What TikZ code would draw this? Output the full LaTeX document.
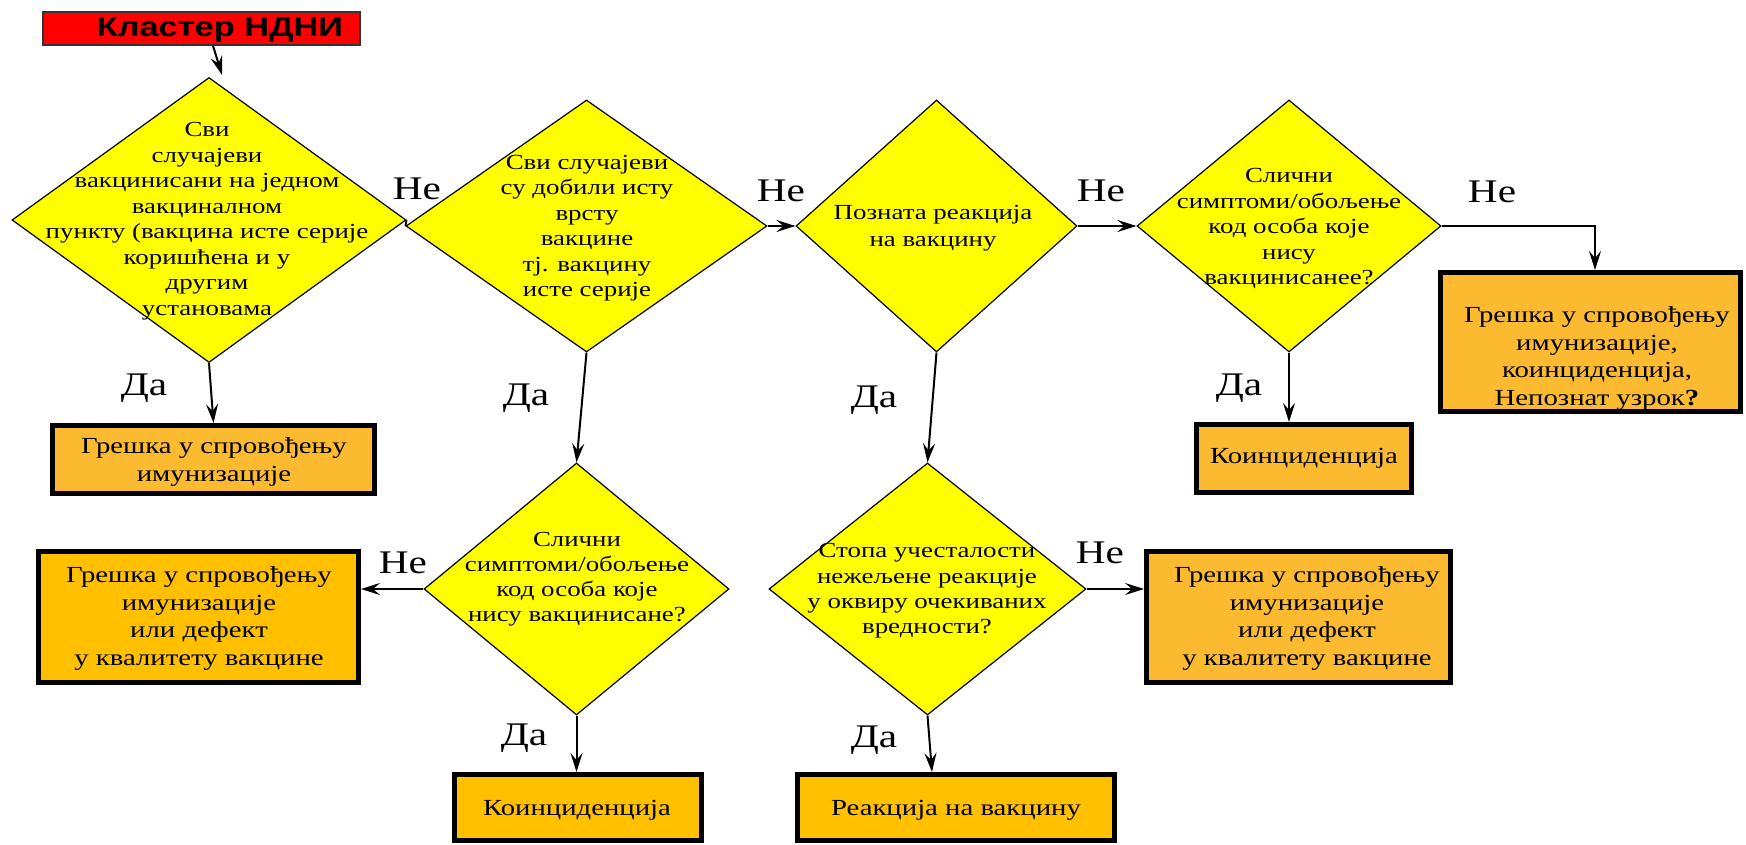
\documentclass[tikz,border=0pt]{standalone}
\usepackage{fontspec}
\setmainfont{Liberation Serif}[FakeStretch=1.25]
\newfontfamily\titlefont{Liberation Sans}[FakeStretch=1.25]
\usetikzlibrary{shapes.geometric,arrows.meta}
\definecolor{dyel}{HTML}{FFFF00}
\definecolor{boxA}{HTML}{FBBA30}
\definecolor{boxB}{HTML}{FFC000}
\definecolor{titred}{HTML}{FF0000}
\begin{document}
\begin{tikzpicture}[x=1pt,y=-1pt,
  dia/.style={diamond, draw=black, line width=1.2pt, fill=dyel, inner sep=0pt},
  dtext/.style={align=center, font=\fontsize{21.5}{25.5}\selectfont, inner sep=0pt},
  outbox/.style={draw=black, line width=5pt, inner sep=0pt},
  btext/.style={align=center, font=\fontsize{23}{27.7}\selectfont, inner sep=0pt},
  lbl/.style={anchor=base, font=\fontsize{33}{36}\selectfont, inner sep=0pt},
  arr/.style={line width=2pt, -{Stealth[length=19pt,width=12pt,inset=7pt]}},
]
\useasboundingbox[fill=white] (0,0) rectangle (1746,845);

% title
\node[draw=black!80, line width=1.5pt, fill=titred, minimum width=317, minimum height=33, inner sep=0pt] (title) at (201.5,28.5) {};
\node[inner sep=0pt, font=\titlefont\bfseries\fontsize{27.5}{29}\selectfont] (titletext) at (220,29.5) {Кластер НДНИ};

% diamonds
\node[dia, minimum width=394, minimum height=285] (d1) at (209,220) {};
\node[dia, minimum width=361, minimum height=252] (d2) at (586.5,226) {};
\node[dia, minimum width=281, minimum height=252] (d3) at (936.5,226) {};
\node[dia, minimum width=304, minimum height=252] (d5) at (1289,226) {};
\node[dia, minimum width=305, minimum height=252] (d4) at (576.5,589) {};
\node[dia, minimum width=317, minimum height=252] (d6) at (927.5,589) {};

\node[dtext] (t1) at (207,221) {Сви\\случајеви\\вакцинисани на једном\\вакциналном\\пункту (вакцина исте серије\\коришћена и у\\другим\\установама};
\node[dtext] (t2) at (587,228) {Сви случајеви\\су добили исту\\врсту\\вакцине\\тј. вакцину\\ исте серије};
\node[dtext, font=\fontsize{21.5}{27}\selectfont] (t3) at (933,228.5) {Позната реакција\\на вакцину};
\node[dtext] (t5) at (1289,228.5) {Слични\\симптоми/обољење\\код особа које\\нису\\вакцинисанее?};
\node[dtext, font=\fontsize{21.5}{25}\selectfont] (t4) at (577,579.5) {Слични\\симптоми/обољење\\код особа које\\нису вакцинисане?};
\node[dtext, font=\fontsize{21.5}{25.3}\selectfont] (t6) at (927,591) {Стопа учесталости\\нежељене реакције\\у оквиру очекиваних\\вредности?};

% result boxes
\node[outbox, fill=boxA, minimum width=322, minimum height=68] (b1) at (213.5,459.5) {};
\node[outbox, fill=boxA, minimum width=215, minimum height=68] (b2) at (1304,458.5) {};
\node[outbox, fill=boxA, minimum width=300, minimum height=139] (b3) at (1590.5,342) {};
\node[outbox, fill=boxB, minimum width=320, minimum height=131] (b4) at (198.5,617) {};
\node[outbox, fill=boxB, minimum width=247, minimum height=66] (b5) at (578,807.5) {};
\node[outbox, fill=boxB, minimum width=317, minimum height=66] (b6) at (956,807.5) {};
\node[outbox, fill=boxA, minimum width=304, minimum height=131] (b7) at (1298.5,617) {};

\node[btext, font=\fontsize{23}{28}\selectfont] (bt1) at (214,462) {Грешка у спровођењу\\имунизације};
\node[btext] (bt2) at (1304,458) {Коинциденција};
\node[btext] (bt3) at (1597,358.5) {Грешка у спровођењу\\имунизације,\\коинциденција,\\Непознат узрок\textbf{?}};
\node[btext] (bt4) at (199,618.5) {Грешка у спровођењу\\имунизације\\или дефект\\у квалитету вакцине};
\node[btext] (bt5) at (577,810) {Коинциденција};
\node[btext] (bt6) at (956,810) {Реакција на вакцину};
\node[btext] (bt7) at (1307,618.5) {Грешка у спровођењу\\имунизације\\или дефект\\у квалитету вакцине};

% connectors
\draw[arr] ([xshift=11.5pt]title.south) -- ([xshift=13pt,yshift=2pt]d1.north);
\draw[line width=1.8pt] (d1.east) -- (d2.west);
\draw[arr] (d2.east) -- (d3.west);
\draw[arr] (d3.east) -- (d5.west);
\draw[arr] (d5.east) -| ([xshift=4.5pt]b3.north);
\draw[arr] (d1.south) -- (b1.north);
\draw[arr] (d2.south) -- (d4.north);
\draw[arr] (d3.south) -- (d6.north);
\draw[arr] (d5.south) -- (d5.south |- b2.north);
\draw[arr] (d4.west) -- (d4.west -| b4.east);
\draw[arr] (d4.south) -- (d4.south |- b5.north);
\draw[arr] (d6.east) -- (d6.east -| b7.west);
\draw[arr] (d6.south) -- ([xshift=-24pt]b6.north);

% labels
\node[lbl] (n1) at (417,200) {Не};
\node[lbl] (n2) at (781,202) {Не};
\node[lbl] (n3) at (1101,202) {Не};
\node[lbl] (n4) at (1492,203) {Не};
\node[lbl] (n5) at (403,573) {Не};
\node[lbl] (n6) at (1100,563) {Не};
\node[lbl] (y1) at (144,395) {Да};
\node[lbl] (y2) at (526,405) {Да};
\node[lbl] (y3) at (874,407) {Да};
\node[lbl] (y4) at (1239,395) {Да};
\node[lbl] (y5) at (524,745) {Да};
\node[lbl] (y6) at (874,747) {Да};
\end{tikzpicture}
\end{document}
